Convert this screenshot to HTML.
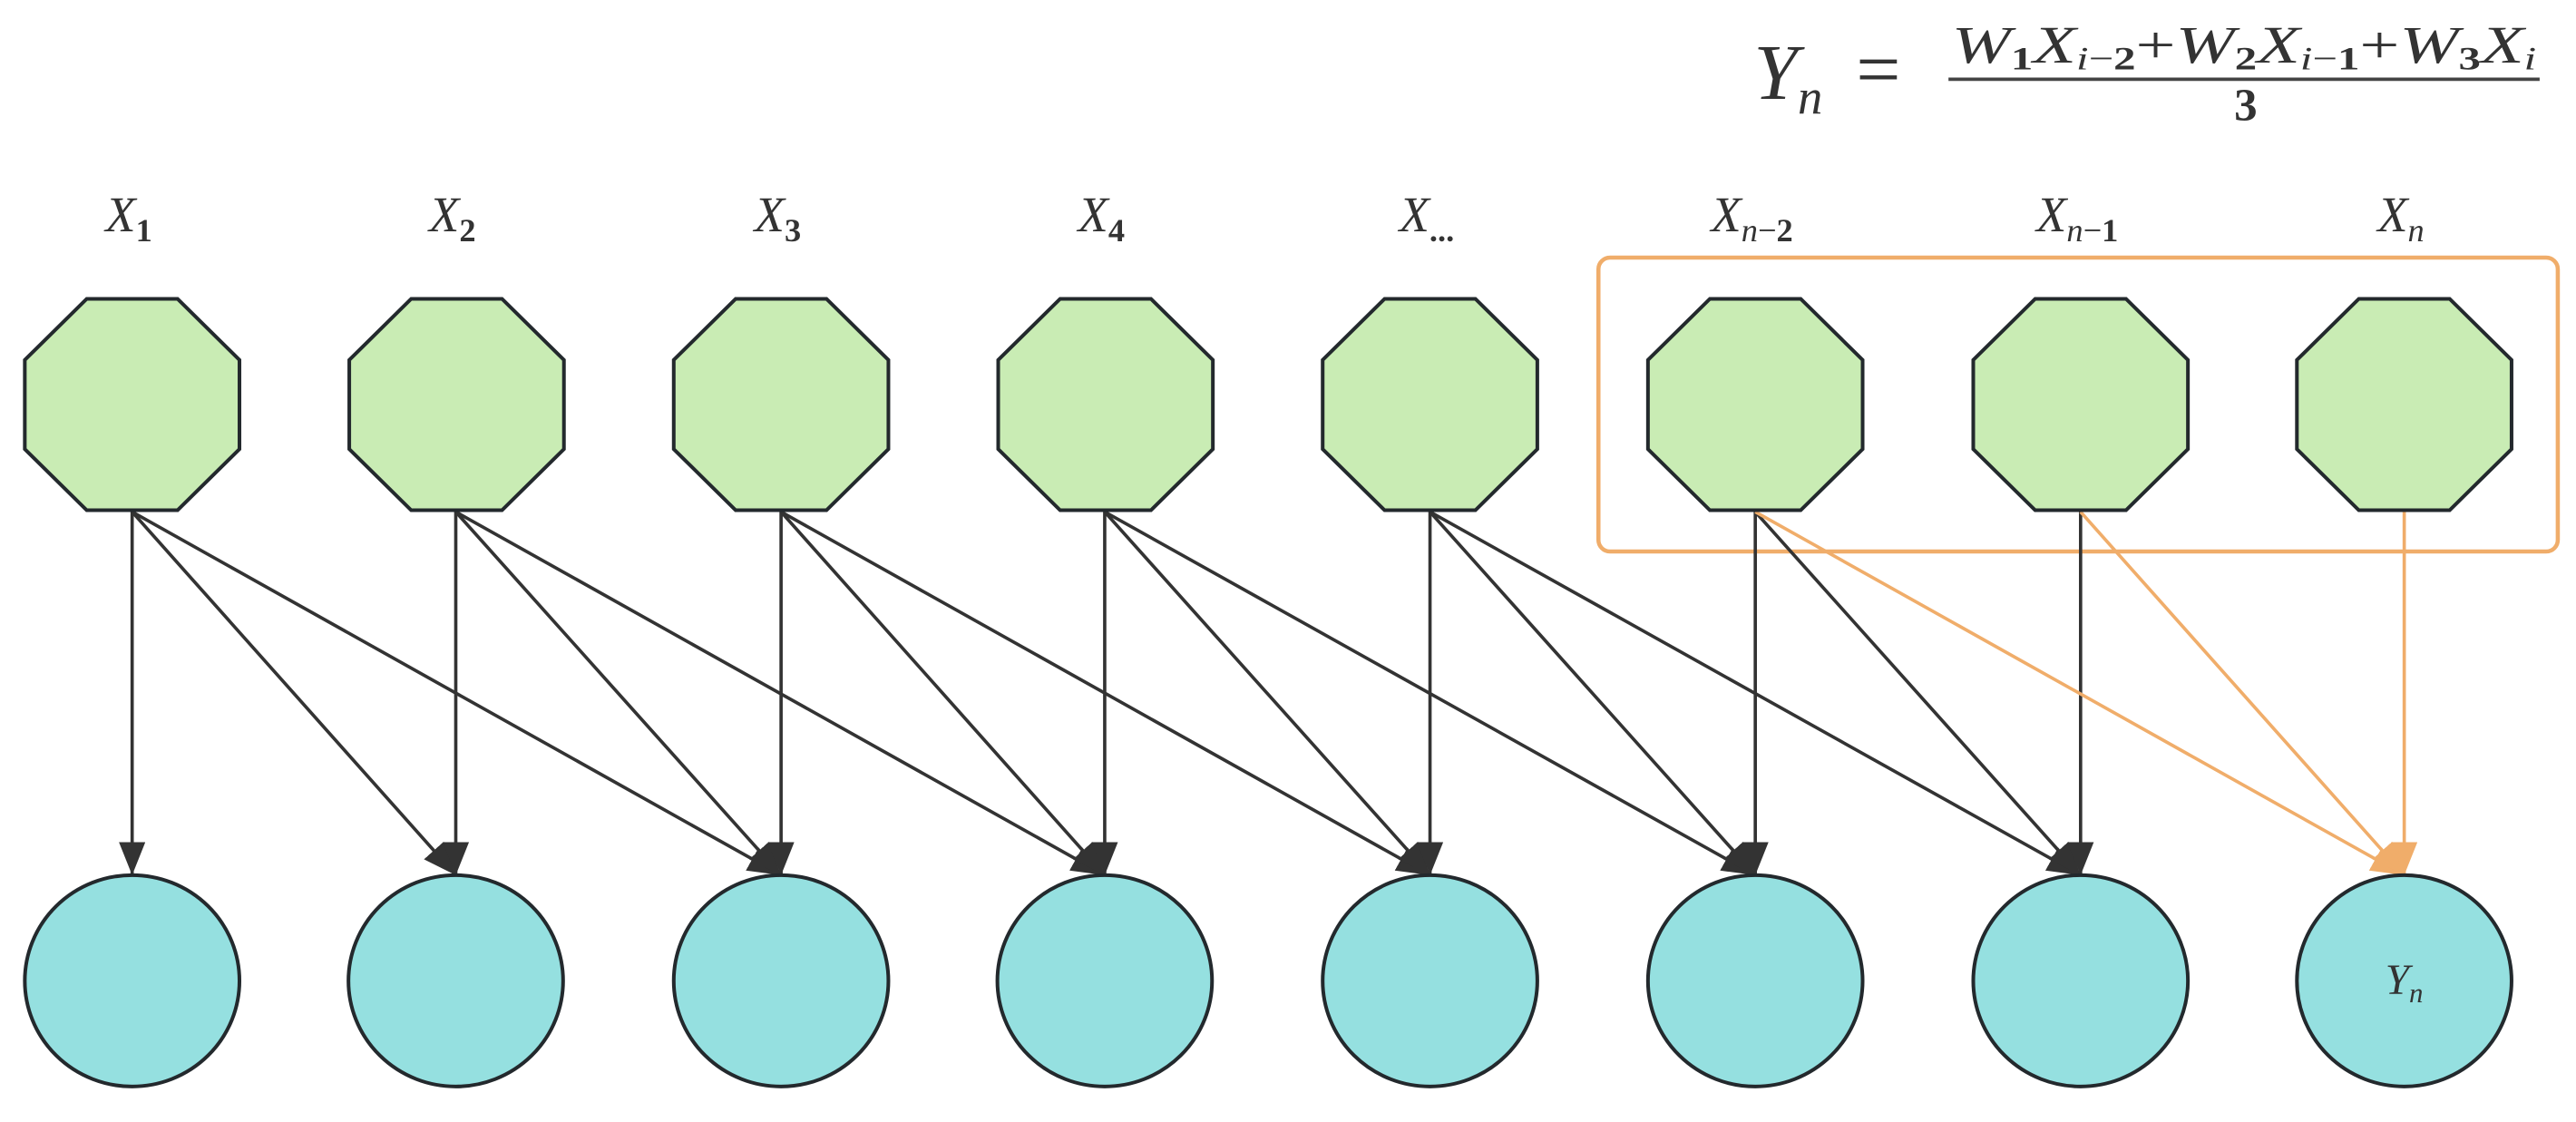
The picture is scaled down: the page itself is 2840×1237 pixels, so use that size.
<!DOCTYPE html>
<html><head><meta charset="utf-8"><style>
html,body{margin:0;padding:0;background:#fff;}
svg{display:block;}
text{font-family:"Liberation Serif",serif;fill:#333;}
</style></head><body>
<svg width="2840" height="1237" viewBox="0 0 1560 679.5" xmlns="http://www.w3.org/2000/svg">
<defs>
<marker id="ab" markerUnits="userSpaceOnUse" markerWidth="26" markerHeight="22" refX="20" refY="8" orient="auto"><path d="M0,0 L20,8 L0,16 Z" fill="#333"/></marker>
<marker id="ao" markerUnits="userSpaceOnUse" markerWidth="26" markerHeight="22" refX="20" refY="8" orient="auto"><path d="M0,0 L20,8 L0,16 Z" fill="#F0AD6A"/></marker>
</defs>
<!-- formula -->
<text x="1062" y="60" font-size="48" font-style="italic">Y<tspan font-size="30" dy="9">n</tspan></text>
<text x="1124" y="58" font-size="48">=</text>
<line x1="1180" y1="48" x2="1538" y2="48" stroke="#444" stroke-width="2"/>
<text x="1182" y="38" font-size="32" font-style="italic" textLength="354" lengthAdjust="spacingAndGlyphs">W<tspan font-size="20" dy="4" font-style="normal" font-weight="bold">1</tspan><tspan dy="-4">X</tspan><tspan font-size="20" dy="4">i</tspan><tspan font-size="20" font-style="normal">−</tspan><tspan font-size="20" font-style="normal" font-weight="bold">2</tspan><tspan font-style="normal" dy="-4">+</tspan>W<tspan font-size="20" dy="4" font-style="normal" font-weight="bold">2</tspan><tspan dy="-4">X</tspan><tspan font-size="20" dy="4">i</tspan><tspan font-size="20" font-style="normal">−</tspan><tspan font-size="20" font-style="normal" font-weight="bold">1</tspan><tspan font-style="normal" dy="-4">+</tspan>W<tspan font-size="20" dy="4" font-style="normal" font-weight="bold">3</tspan><tspan dy="-4">X</tspan><tspan font-size="20" dy="4">i</tspan></text>
<text x="1360" y="73" font-size="28" text-anchor="middle" font-weight="bold">3</text>

<!-- orange group box -->
<rect x="968" y="156" width="581" height="178" rx="7" fill="none" stroke="#F0AD6A" stroke-width="2.5"/>

<!-- edges -->
<g stroke="#333" stroke-width="2" fill="none">
<line x1="80" y1="310" x2="80" y2="530" marker-end="url(#ab)"/>
<line x1="80" y1="310" x2="276" y2="530" marker-end="url(#ab)"/>
<line x1="80" y1="310" x2="473" y2="530" marker-end="url(#ab)"/>
<line x1="276" y1="310" x2="276" y2="530" marker-end="url(#ab)"/>
<line x1="276" y1="310" x2="473" y2="530" marker-end="url(#ab)"/>
<line x1="276" y1="310" x2="669" y2="530" marker-end="url(#ab)"/>
<line x1="473" y1="310" x2="473" y2="530" marker-end="url(#ab)"/>
<line x1="473" y1="310" x2="669" y2="530" marker-end="url(#ab)"/>
<line x1="473" y1="310" x2="866" y2="530" marker-end="url(#ab)"/>
<line x1="669" y1="310" x2="669" y2="530" marker-end="url(#ab)"/>
<line x1="669" y1="310" x2="866" y2="530" marker-end="url(#ab)"/>
<line x1="669" y1="310" x2="1063" y2="530" marker-end="url(#ab)"/>
<line x1="866" y1="310" x2="866" y2="530" marker-end="url(#ab)"/>
<line x1="866" y1="310" x2="1063" y2="530" marker-end="url(#ab)"/>
<line x1="866" y1="310" x2="1260" y2="530" marker-end="url(#ab)"/>
<line x1="1063" y1="310" x2="1063" y2="530" marker-end="url(#ab)"/>
<line x1="1063" y1="310" x2="1260" y2="530" marker-end="url(#ab)"/>
<line x1="1260" y1="310" x2="1260" y2="530" marker-end="url(#ab)"/>
</g>
<g stroke="#F0AD6A" stroke-width="2" fill="none">
<line x1="1063" y1="310" x2="1456" y2="530" marker-end="url(#ao)"/>
<line x1="1260" y1="310" x2="1456" y2="530" marker-end="url(#ao)"/>
<line x1="1456" y1="310" x2="1456" y2="530" marker-end="url(#ao)"/>
</g>

<!-- octagons -->
<g fill="#C9ECB4" stroke="#23292d" stroke-width="2.2">
<polygon points="52.5,181 107.5,181 145,218 145,272 107.5,309 52.5,309 15,272 15,218"/>
<polygon transform="translate(196.5,0)" points="52.5,181 107.5,181 145,218 145,272 107.5,309 52.5,309 15,272 15,218"/>
<polygon transform="translate(393,0)" points="52.5,181 107.5,181 145,218 145,272 107.5,309 52.5,309 15,272 15,218"/>
<polygon transform="translate(589.5,0)" points="52.5,181 107.5,181 145,218 145,272 107.5,309 52.5,309 15,272 15,218"/>
<polygon transform="translate(786,0)" points="52.5,181 107.5,181 145,218 145,272 107.5,309 52.5,309 15,272 15,218"/>
<polygon transform="translate(983,0)" points="52.5,181 107.5,181 145,218 145,272 107.5,309 52.5,309 15,272 15,218"/>
<polygon transform="translate(1180,0)" points="52.5,181 107.5,181 145,218 145,272 107.5,309 52.5,309 15,272 15,218"/>
<polygon transform="translate(1376,0)" points="52.5,181 107.5,181 145,218 145,272 107.5,309 52.5,309 15,272 15,218"/>
</g>

<!-- ellipses -->
<g fill="#95E0E0" stroke="#23292d" stroke-width="2.2">
<ellipse cx="80" cy="594" rx="65" ry="64"/>
<ellipse cx="276" cy="594" rx="65" ry="64"/>
<ellipse cx="473" cy="594" rx="65" ry="64"/>
<ellipse cx="669" cy="594" rx="65" ry="64"/>
<ellipse cx="866" cy="594" rx="65" ry="64"/>
<ellipse cx="1063" cy="594" rx="65" ry="64"/>
<ellipse cx="1260" cy="594" rx="65" ry="64"/>
<ellipse cx="1456" cy="594" rx="65" ry="64"/>
</g>
<text x="1456" y="602" font-size="26" font-style="italic" text-anchor="middle">Y<tspan font-size="17" dy="5">n</tspan></text>

<!-- top labels -->
<g font-size="30" font-style="italic" text-anchor="middle">
<text x="78" y="140">X<tspan font-size="20" dy="6" font-style="normal" font-weight="bold">1</tspan></text>
<text x="274" y="140">X<tspan font-size="20" dy="6" font-style="normal" font-weight="bold">2</tspan></text>
<text x="471" y="140">X<tspan font-size="20" dy="6" font-style="normal" font-weight="bold">3</tspan></text>
<text x="667" y="140">X<tspan font-size="20" dy="6" font-style="normal" font-weight="bold">4</tspan></text>
<text x="864" y="140">X<tspan font-size="20" dy="6" font-style="normal" font-weight="bold">...</tspan></text>
<text x="1061" y="140">X<tspan font-size="20" dy="6">n</tspan><tspan font-size="20" font-style="normal">−</tspan><tspan font-size="20" font-style="normal" font-weight="bold">2</tspan></text>
<text x="1258" y="140">X<tspan font-size="20" dy="6">n</tspan><tspan font-size="20" font-style="normal">−</tspan><tspan font-size="20" font-style="normal" font-weight="bold">1</tspan></text>
<text x="1454" y="140">X<tspan font-size="20" dy="6">n</tspan></text>
</g>
</svg>
</body></html>
